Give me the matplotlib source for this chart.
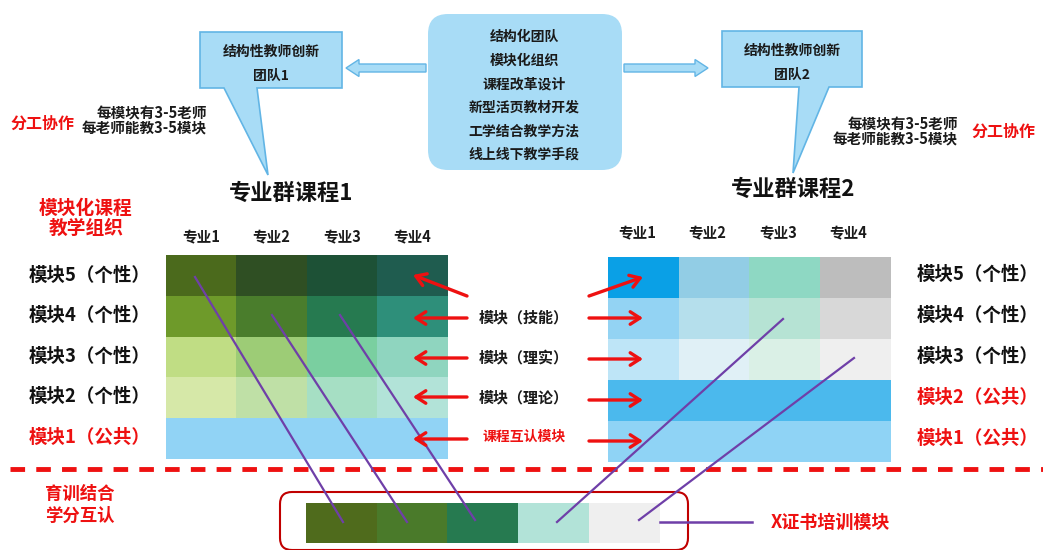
import matplotlib.pyplot as plt
import matplotlib.patches as mpatches
import matplotlib.colors as mcolors
import numpy as np

plt.rcParams['font.family'] = ['Noto Sans CJK SC', 'DejaVu Sans']

# Textos del diagrama
center_items = ['结构化团队', '模块化组织', '课程改革设计', '新型活页教材开发', '工学结合教学方法', '线上线下教学手段']
team_lines_1 = ['结构性教师创新', '团队1']
team_lines_2 = ['结构性教师创新', '团队2']
teacher_notes = ['每模块有3-5老师', '每老师能教3-5模块']
majors = ['专业1', '专业2', '专业3', '专业4']
rows_left = ['模块5（个性）', '模块4（个性）', '模块3（个性）', '模块2（个性）', '模块1（公共）']
rows_right = ['模块5（个性）', '模块4（个性）', '模块3（个性）', '模块2（公共）', '模块1（公共）']
middle_labels = ['模块（技能）', '模块（理实）', '模块（理论）', '课程互认模块']

# Colores de las celdas (fila superior = modulo 5)
colors_left = [
    ['#4b6a1c', '#2f4f23', '#1d5136', '#1f5c4f'],
    ['#6e9a2a', '#4a7d2c', '#267a50', '#2e8f7a'],
    ['#c0dd84', '#9dcc76', '#7acfa0', '#8fd5bf'],
    ['#d6e8a8', '#bfe0a6', '#a6dfc4', '#b2e3d8'],
    ['#91d3f5', '#91d3f5', '#91d3f5', '#91d3f5'],
]
colors_right = [
    ['#0aa0e6', '#92cde5', '#8ed8c3', '#bdbdbd'],
    ['#93d3f3', '#b5dfec', '#b6e3d4', '#d8d8d8'],
    ['#bee5f7', '#e0f0f6', '#daf0e6', '#efefef'],
    ['#4bb9ed', '#4bb9ed', '#4bb9ed', '#4bb9ed'],
    ['#8fd3f5', '#8fd3f5', '#8fd3f5', '#8fd3f5'],
]
colors_cert = ['#4f6b1c', '#4a7a2a', '#267a50', '#b2e3d8', '#efefef']

BOX_FILL = '#a8dcf6'
BOX_EDGE = '#62b5e5'
RED = '#ee1111'
PURPLE = '#6f3fa8'
DARK = '#1a1a1a'

fig = plt.figure(figsize=(10.43, 5.5), dpi=100)
ax = fig.add_axes([0, 0, 1, 1])
ax.set_xlim(0, 1043)
ax.set_ylim(550, 0)
ax.axis('off')


def rgb(grid):
    return np.array([[mcolors.to_rgb(c) for c in row] for row in grid])


# Cuadro central
ax.add_patch(mpatches.FancyBboxPatch((428, 14), 194, 156, boxstyle='round,pad=0,rounding_size=20',
                                     fc=BOX_FILL, ec='none'))
for i, t in enumerate(center_items):
    ax.text(524, 37 + i * 23.6, t, ha='center', va='center', fontsize=10, fontweight='bold', color=DARK)

# Flechas de bloque
ax.add_patch(mpatches.FancyArrow(426, 68, -80, 0, width=8, head_width=17, head_length=13,
                                 length_includes_head=True, fc=BOX_FILL, ec=BOX_EDGE, lw=1))
ax.add_patch(mpatches.FancyArrow(624, 68, 84, 0, width=8, head_width=17, head_length=13,
                                 length_includes_head=True, fc=BOX_FILL, ec=BOX_EDGE, lw=1))

# Bocadillos de los equipos
call1 = [(200, 32), (342, 32), (342, 88), (257, 88), (268, 175), (224, 88), (200, 88)]
call2 = [(722, 31), (862, 31), (862, 87), (829, 87), (793, 173), (799, 87), (722, 87)]
ax.add_patch(mpatches.Polygon(call1, closed=True, fc=BOX_FILL, ec=BOX_EDGE, lw=1.2))
ax.add_patch(mpatches.Polygon(call2, closed=True, fc=BOX_FILL, ec=BOX_EDGE, lw=1.2))
for i, t in enumerate(team_lines_1):
    ax.text(271, 52 + i * 24, t, ha='center', va='center', fontsize=10, fontweight='bold', color=DARK)
for i, t in enumerate(team_lines_2):
    ax.text(792, 51 + i * 24, t, ha='center', va='center', fontsize=10, fontweight='bold', color=DARK)

# Notas de division del trabajo
for i, t in enumerate(teacher_notes):
    ax.text(207, 113 + i * 15, t, ha='right', va='center', fontsize=10.5, fontweight='bold', color=DARK)
    ax.text(958, 124 + i * 15, t, ha='right', va='center', fontsize=10.5, fontweight='bold', color=DARK)
ax.text(42, 124, '分工协作', ha='center', va='center', fontsize=11.5, fontweight='bold', color=RED)
ax.text(1003, 132, '分工协作', ha='center', va='center', fontsize=11.5, fontweight='bold', color=RED)

# Titulos de los grupos
ax.text(291, 193, '专业群课程1', ha='center', va='center', fontsize=16, fontweight='bold', color='#111111')
ax.text(793, 189, '专业群课程2', ha='center', va='center', fontsize=16, fontweight='bold', color='#111111')
ax.text(86, 208, '模块化课程', ha='center', va='center', fontsize=13.5, fontweight='bold', color=RED)
ax.text(86, 228, '教学组织', ha='center', va='center', fontsize=13.5, fontweight='bold', color=RED)

# Matrices de modulos
ax.imshow(rgb(colors_left), extent=(166, 448, 459, 255), interpolation='nearest', aspect='auto', zorder=1)
ax.imshow(rgb(colors_right), extent=(608, 891, 462, 257), interpolation='nearest', aspect='auto', zorder=1)

for j, m in enumerate(majors):
    ax.text(201 + j * 70.5, 237, m, ha='center', va='center', fontsize=10.5, fontweight='bold', color=DARK)
    ax.text(637 + j * 70.5, 233, m, ha='center', va='center', fontsize=10.5, fontweight='bold', color=DARK)

for i, (a, b) in enumerate(zip(rows_left, rows_right)):
    ax.text(90, 275 + i * 40.5, a, ha='center', va='center', fontsize=13.3, fontweight='bold',
            color=RED if '公共' in a else '#111111')
    ax.text(978, 274 + i * 41, b, ha='center', va='center', fontsize=13.3, fontweight='bold',
            color=RED if '公共' in b else '#111111')

# Etiquetas centrales y flechas rojas
for i, t in enumerate(middle_labels):
    last = i == len(middle_labels) - 1
    ax.text(524, 317 + i * 40, t, ha='center', va='center', fontsize=10 if last else 10.8,
            fontweight='bold', color=RED if last else DARK)

arrow_kw = dict(arrowstyle='->,head_length=0.7,head_width=0.45', color=RED, lw=2.4, shrinkA=0, shrinkB=0)
left_tails = [(467, 296), (467, 318), (467, 358), (467, 397), (467, 439)]
left_tips = [(413, 275), (413, 318), (413, 358), (413, 397), (413, 439)]
right_tails = [(589, 296), (589, 318), (589, 359), (589, 400), (589, 441)]
right_tips = [(643, 277), (643, 318), (643, 359), (643, 400), (643, 441)]
for tail, tip in zip(left_tails + right_tails, left_tips + right_tips):
    ax.annotate('', xy=tip, xytext=tail, arrowprops=arrow_kw, zorder=4)

# Linea discontinua roja
ax.plot([10, 1043], [469, 469], color=RED, lw=3.5, linestyle=(0, (3, 2.3)), solid_capstyle='butt', zorder=3)

# Zona inferior
ax.text(80, 494, '育训结合', ha='center', va='center', fontsize=12.5, fontweight='bold', color=RED)
ax.text(80, 516, '学分互认', ha='center', va='center', fontsize=12.5, fontweight='bold', color=RED)
ax.add_patch(mpatches.FancyBboxPatch((280, 492), 408, 58, boxstyle='round,pad=0,rounding_size=12',
                                     fc='none', ec='#c00000', lw=1.5, zorder=2))
ax.imshow(rgb([colors_cert]), extent=(306, 660, 543, 503), interpolation='nearest', aspect='auto', zorder=1)
ax.plot([660, 752], [522, 522], color=PURPLE, lw=1.8, zorder=3)
ax.text(830, 522, 'X证书培训模块', ha='center', va='center', fontsize=13, fontweight='bold', color=RED)

# Lineas moradas que conectan los modulos con el certificado
line_starts = [(195, 277), (272, 315), (340, 315), (783, 319), (854, 358)]
line_ends = [(343, 522), (407, 522), (475, 520), (557, 522), (639, 520)]
for (x0, y0), (x1, y1) in zip(line_starts, line_ends):
    ax.plot([x0, x1], [y0, y1], color=PURPLE, lw=1.6, zorder=3)

ax.set_xlim(0, 1043)
ax.set_ylim(550, 0)
fig.savefig('out.png', dpi=100)
